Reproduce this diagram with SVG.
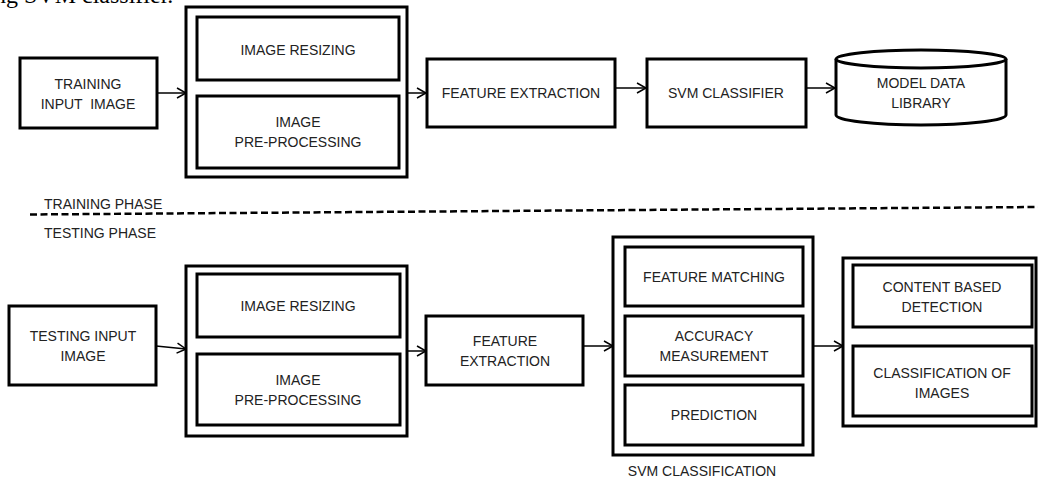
<svg xmlns="http://www.w3.org/2000/svg" width="1038" height="480" viewBox="0 0 1038 480">
<style>
.box{fill:#fff;stroke:#000;stroke-width:3}
.t{font-family:"Liberation Sans",Arial,sans-serif;font-size:14px;fill:#222;text-anchor:middle;dominant-baseline:central}
.lbl{font-family:"Liberation Sans",Arial,sans-serif;font-size:14px;fill:#222}
.con{fill:none;stroke:#000;stroke-width:1.5;marker-end:url(#ah)}
</style>
<defs>
<marker id="ah" markerUnits="userSpaceOnUse" markerWidth="12" markerHeight="12" refX="10" refY="6" orient="auto">
<path d="M1,1 L10,6 L1,11" fill="none" stroke="#000" stroke-width="1.5"/>
</marker>
</defs>
<rect width="1038" height="480" fill="#fff"/>
<text x="-6" y="3" font-family="Liberation Serif,serif" font-size="24" fill="#000">ng SVM classifier.</text>

<g id="connectors">
<line class="con" x1="157" y1="93" x2="186" y2="93"/>
<line class="con" x1="407" y1="93" x2="426" y2="93"/>
<line class="con" x1="615" y1="88" x2="646" y2="88"/>
<line class="con" x1="806" y1="88" x2="835" y2="88"/>
<line class="con" x1="156" y1="346" x2="186" y2="349"/>
<line class="con" x1="407" y1="351" x2="426" y2="351"/>
<line class="con" x1="583" y1="346" x2="613" y2="346"/>
<line class="con" x1="813" y1="346" x2="843" y2="346"/>
</g>

<g id="phase-divider">
<line x1="30" y1="214.5" x2="1038" y2="207" stroke="#000" stroke-width="2.5" stroke-dasharray="7 3.5"/>
<text class="lbl" x="44" y="209">TRAINING PHASE</text>
<text class="lbl" x="44" y="238">TESTING PHASE</text>
</g>

<g id="training-input">
<rect class="box" x="20" y="58" width="137" height="70"/>
<text class="t" x="88" y="84">TRAINING</text>
<text class="t" x="88" y="104" style="white-space:pre">INPUT  IMAGE</text>
</g>

<g id="train-preprocess">
<rect class="box" x="186" y="7" width="221" height="170"/>
<rect class="box" x="197" y="17" width="202" height="63"/>
<text class="t" x="298" y="50">IMAGE RESIZING</text>
<rect class="box" x="197" y="96" width="202" height="72"/>
<text class="t" x="298" y="122">IMAGE</text>
<text class="t" x="298" y="142">PRE-PROCESSING</text>
</g>

<g id="train-feature-extraction">
<rect class="box" x="427" y="59" width="188" height="68"/>
<text class="t" x="521" y="93">FEATURE EXTRACTION</text>
</g>

<g id="svm-classifier">
<rect class="box" x="647" y="59" width="159" height="68"/>
<text class="t" x="726" y="93">SVM CLASSIFIER</text>
</g>

<g id="model-data-library">
<path class="box" d="M836,59 A85,9 0 0 1 1006,59 L1006,115 A85,10 0 0 1 836,115 Z"/>
<path d="M836,59 A85,9 0 0 0 1006,59" fill="none" stroke="#000" stroke-width="3"/>
<text class="t" x="921" y="83">MODEL DATA</text>
<text class="t" x="921" y="103">LIBRARY</text>
</g>

<g id="testing-input">
<rect class="box" x="9" y="306" width="147" height="79"/>
<text class="t" x="83" y="336">TESTING INPUT</text>
<text class="t" x="83" y="356">IMAGE</text>
</g>

<g id="test-preprocess">
<rect class="box" x="186" y="266" width="221" height="170"/>
<rect class="box" x="197" y="274" width="203" height="63"/>
<text class="t" x="298" y="306">IMAGE RESIZING</text>
<rect class="box" x="197" y="354" width="203" height="71"/>
<text class="t" x="298" y="380">IMAGE</text>
<text class="t" x="298" y="400">PRE-PROCESSING</text>
</g>

<g id="test-feature-extraction">
<rect class="box" x="426" y="316" width="157" height="69"/>
<text class="t" x="505" y="341">FEATURE</text>
<text class="t" x="505" y="361">EXTRACTION</text>
</g>

<g id="svm-classification">
<rect class="box" x="613" y="237" width="200" height="218"/>
<rect class="box" x="625" y="247" width="178" height="59"/>
<text class="t" x="714" y="277">FEATURE MATCHING</text>
<rect class="box" x="625" y="316" width="178" height="60"/>
<text class="t" x="714" y="336">ACCURACY</text>
<text class="t" x="714" y="356">MEASUREMENT</text>
<rect class="box" x="625" y="385" width="178" height="60"/>
<text class="t" x="714" y="415">PREDICTION</text>
<text class="t" x="702" y="471">SVM CLASSIFICATION</text>
</g>

<g id="results">
<rect class="box" x="843" y="258" width="193" height="168"/>
<rect class="box" x="853" y="265" width="179" height="62"/>
<text class="t" x="942" y="287">CONTENT BASED</text>
<text class="t" x="942" y="307">DETECTION</text>
<rect class="box" x="853" y="346" width="179" height="70"/>
<text class="t" x="942" y="373">CLASSIFICATION OF</text>
<text class="t" x="942" y="393">IMAGES</text>
</g>
</svg>
